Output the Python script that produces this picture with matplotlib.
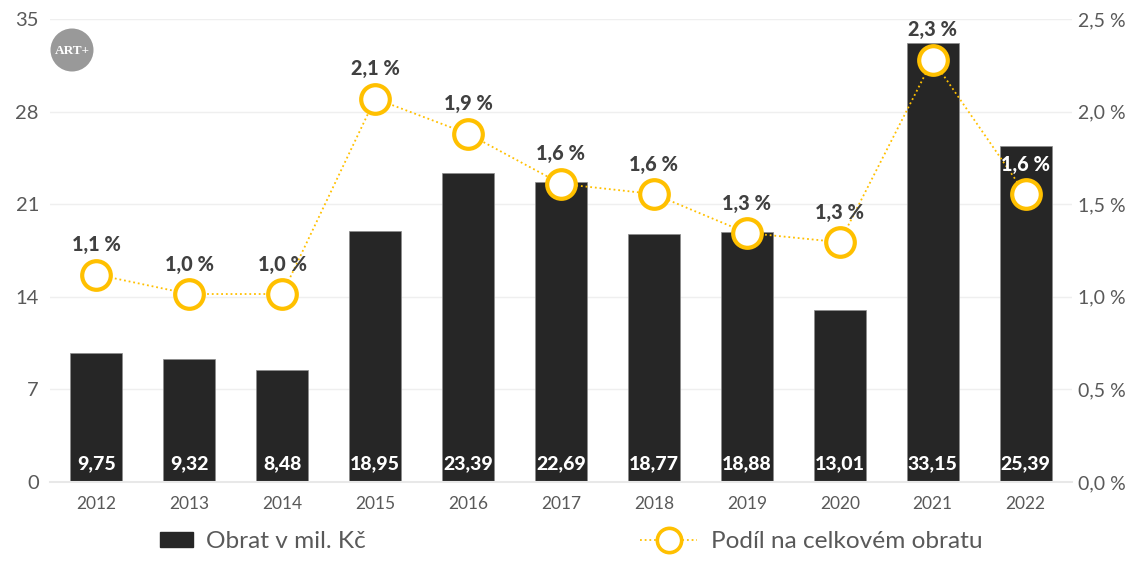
import matplotlib
matplotlib.use("Agg")
import matplotlib.pyplot as plt
from matplotlib.lines import Line2D
from matplotlib.patches import Circle, Patch

YEARS = [2012, 2013, 2014, 2015, 2016, 2017, 2018, 2019, 2020, 2021, 2022]
OBRAT = [9.75, 9.32, 8.48, 18.95, 23.39, 22.69, 18.77, 18.88, 13.01, 33.15, 25.39]
PODIL = [1.12, 1.015, 1.015, 2.07, 1.88, 1.61, 1.555, 1.345, 1.295, 2.28, 1.555]
PODIL_LABELS = ["1,1 %", "1,0 %", "1,0 %", "2,1 %", "1,9 %", "1,6 %", "1,6 %", "1,3 %", "1,3 %", "2,3 %", "1,6 %"]
LEFT_TICKS = [0, 7, 14, 21, 28, 35]
RIGHT_TICKS = [0.0, 0.5, 1.0, 1.5, 2.0, 2.5]

BAR_COLOR = "#262626"
LINE_COLOR = "#FFC000"
TEXT_COLOR = "#595959"

plt.rcParams["font.family"] = ["Lato", "DejaVu Sans"]


def comma(value: float, digits: int = 2) -> str:
    return f"{value:.{digits}f}".replace(".", ",")


fig = plt.figure(figsize=(11.35, 5.67), dpi=100)
ax = fig.add_axes([50 / 1135, 1 - 482 / 567, (1072 - 50) / 1135, (482 - 19) / 567])
ax2 = ax.twinx()

positions = list(range(len(YEARS)))
ax.bar(positions, OBRAT, width=0.56, color=BAR_COLOR, edgecolor="#8c8c8c", linewidth=0.5, zorder=2)
ax.set_xlim(-0.5, len(YEARS) - 0.5)
ax.set_ylim(0, 35)
ax.set_yticks(LEFT_TICKS)
ax.set_xticks(positions)
ax.set_xticklabels(YEARS)
ax.grid(axis="y", color="#EFEFEF", linewidth=1.0, zorder=0)
ax.set_axisbelow(True)
ax.tick_params(axis="x", length=0, pad=10, labelsize=12.5, labelcolor=TEXT_COLOR)
ax.tick_params(axis="y", length=0, pad=8, labelsize=14.5, labelcolor=TEXT_COLOR)
for spine in ax.spines.values():
    spine.set_visible(False)
ax.spines["bottom"].set_visible(True)
ax.spines["bottom"].set_color("#E8E8E8")
ax.spines["bottom"].set_linewidth(1.5)

for x, value in zip(positions, OBRAT):
    ax.annotate(comma(value), (x, 0), xytext=(0, 7), textcoords="offset points", ha="center", va="bottom",
                color="white", fontsize=14, fontweight="black", zorder=5)

ax2.set_ylim(0, 2.5)
ax2.set_yticks(RIGHT_TICKS)
ax2.set_yticklabels([comma(t, 1) + " %" for t in RIGHT_TICKS])
ax2.tick_params(axis="y", length=0, pad=4.5, labelsize=14, labelcolor=TEXT_COLOR)
for spine in ax2.spines.values():
    spine.set_visible(False)
ax2.plot(positions, PODIL, color=LINE_COLOR, linestyle=(0, (1, 1.6)), linewidth=1.3, marker="o",
         markersize=20.6, markerfacecolor="white", markeredgecolor=LINE_COLOR, markeredgewidth=3, zorder=4)

for x, value, label in zip(positions, PODIL, PODIL_LABELS):
    # the last label sits on its bar, so it goes white
    color = "white" if x == positions[-1] else "#404040"
    ax2.annotate(label, (x, value), xytext=(0, 21.5), textcoords="offset points", ha="center", va="center",
                 color=color, fontsize=14.3, fontweight="black", zorder=6)

# ART+ badge in the top left corner
badge = Circle((72, 567 - 50), 21.5, transform=None, facecolor="#999999", edgecolor="none")
fig.add_artist(badge)
fig.text(72 / 1135, 1 - 51 / 567, "ART+", ha="center", va="center", color="white", fontsize=9.5,
         fontweight="bold", family="Liberation Serif")

legend_bar = fig.legend(handles=[Patch(facecolor=BAR_COLOR, edgecolor=BAR_COLOR, label="Obrat v mil. Kč")],
                        loc="center left", bbox_to_anchor=(160 / 1135, 1 - 541.5 / 567), frameon=False,
                        fontsize=17.6, labelcolor=TEXT_COLOR, borderpad=0, borderaxespad=0,
                        handlelength=1.35, handleheight=0.55, handletextpad=0.55)
legend_line = fig.legend(handles=[Line2D([], [], color=LINE_COLOR, linestyle=(0, (1, 1.6)), linewidth=1.3, marker="o",
                                         markersize=17.5, markerfacecolor="white", markeredgecolor=LINE_COLOR,
                                         markeredgewidth=2.6, label="Podíl na celkovém obratu")],
                         loc="center left", bbox_to_anchor=(640 / 1135, 1 - 541.5 / 567), frameon=False,
                         fontsize=17.6, labelcolor=TEXT_COLOR, borderpad=0, borderaxespad=0,
                         handlelength=2.35, handletextpad=0.55)

fig.savefig("out.png", dpi=100)
